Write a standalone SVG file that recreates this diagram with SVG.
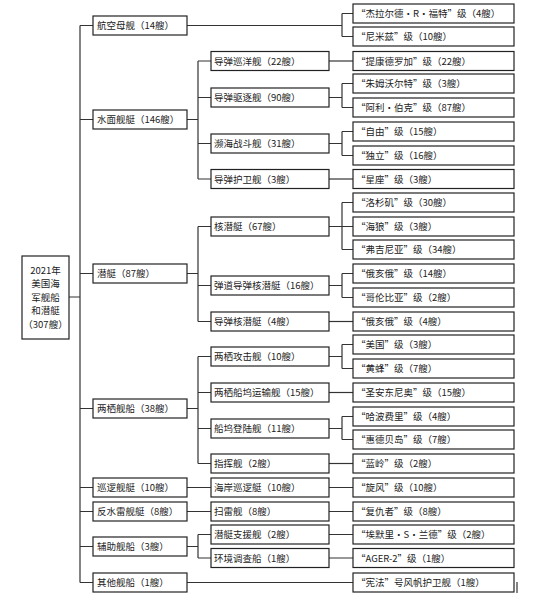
<svg xmlns="http://www.w3.org/2000/svg" width="536" height="597" viewBox="0 0 536 597">
<style>
.b{fill:#fff;stroke:#222;stroke-width:1.2}
.t{font-family:"Noto Sans CJK SC","Noto Sans",sans-serif;font-size:9.5px;fill:#222}
.c{fill:none;stroke:#333;stroke-width:1.2}
</style>
<rect width="536" height="597" fill="#fff"/>
<g id="connectors" class="c">
<path d="M69,297H80M80,25.5V582.5M80,25.5H93M80,119.5H93M80,273.5H93M80,408.5H93M80,487.5H93M80,511.5H93M80,546.5H93M80,582.5H93"/>
<path d="M187,25.5H342M342,13.5V36.5M342,13.5H353M342,36.5H353"/>
<path d="M187,119.5H198M198,61H198V179M198,61H211M198,97.5H211M198,143.5H211M198,179H211"/>
<path d="M329,61H353"/>
<path d="M329,97.5H342M342,83.5V107.5M342,83.5H353M342,107.5H353"/>
<path d="M329,143.5H342M342,131.5V155.5M342,131.5H353M342,155.5H353"/>
<path d="M329,179H353"/>
<path d="M187,273.5H198M198,226.5V321.5M198,226.5H211M198,285.5H211M198,321.5H211"/>
<path d="M329,226.5H342M342,202.5V249.5M342,202.5H353M342,226.5H353M342,249.5H353"/>
<path d="M329,285.5H342M342,273.5V297.5M342,273.5H353M342,297.5H353"/>
<path d="M329,321.5H353"/>
<path d="M187,408.5H198M198,356.5V463.5M198,356.5H211M198,392.5H211M198,428.5H211M198,463.5H211"/>
<path d="M329,356.5H342M342,344.5V368.5M342,344.5H353M342,368.5H353"/>
<path d="M329,392.5H353"/>
<path d="M329,428.5H342M342,416.5V439.5M342,416.5H353M342,439.5H353"/>
<path d="M329,463.5H353"/>
<path d="M187,487.5H211M329,487.5H353"/>
<path d="M187,511.5H211M329,511.5H353"/>
<path d="M187,546.5H198M198,534.5V558M198,534.5H211M198,558H211"/>
<path d="M329,534.5H353M329,558H353"/>
<path d="M187,582.5H353"/>
<path d="M517,582V593"/>
</g>
<g id="root"><rect class="b" x="22" y="256" width="47" height="83"/>
<text class="t" text-anchor="middle" x="45.5" y="273.5">2021年</text>
<text class="t" text-anchor="middle" x="45.5" y="287">美国海</text>
<text class="t" text-anchor="middle" x="45.5" y="300.5">军舰船</text>
<text class="t" text-anchor="middle" x="45.5" y="314">和潜艇</text>
<text class="t" text-anchor="middle" x="45.5" y="327.5">（307艘）</text></g>
<g id="l1-carrier"><rect class="b" x="93" y="16" width="94" height="19"/><text class="t" x="97" y="29.3">航空母舰（14艘）</text></g>
<g id="l1-surface"><rect class="b" x="93" y="110" width="94" height="19"/><text class="t" x="97" y="123.3">水面舰艇（146艘）</text></g>
<g id="l1-sub"><rect class="b" x="93" y="264" width="94" height="19"/><text class="t" x="97" y="277.3">潜艇（87艘）</text></g>
<g id="l1-amphib"><rect class="b" x="93" y="399" width="94" height="19"/><text class="t" x="97" y="412.3">两栖舰船（38艘）</text></g>
<g id="l1-patrol"><rect class="b" x="93" y="478" width="94" height="19"/><text class="t" x="97" y="491.3">巡逻舰艇（10艘）</text></g>
<g id="l1-mine"><rect class="b" x="93" y="502" width="94" height="19"/><text class="t" x="97" y="515.3">反水雷舰艇（8艘）</text></g>
<g id="l1-aux"><rect class="b" x="93" y="537" width="94" height="19"/><text class="t" x="97" y="550.3">辅助舰船（3艘）</text></g>
<g id="l1-other"><rect class="b" x="93" y="573" width="94" height="19"/><text class="t" x="97" y="586.3">其他舰船（1艘）</text></g>
<g id="l2-cg"><rect class="b" x="211" y="51.5" width="118" height="19"/><text class="t" x="214" y="64.8">导弹巡洋舰（22艘）</text></g>
<g id="l2-ddg"><rect class="b" x="211" y="88" width="118" height="19"/><text class="t" x="214" y="101.3">导弹驱逐舰（90艘）</text></g>
<g id="l2-lcs"><rect class="b" x="211" y="134" width="118" height="19"/><text class="t" x="214" y="147.3">濒海战斗舰（31艘）</text></g>
<g id="l2-ffg"><rect class="b" x="211" y="169.5" width="118" height="19"/><text class="t" x="214" y="182.8">导弹护卫舰（3艘）</text></g>
<g id="l2-ssn"><rect class="b" x="211" y="217" width="118" height="19"/><text class="t" x="214" y="230.3">核潜艇（67艘）</text></g>
<g id="l2-ssbn"><rect class="b" x="211" y="276" width="118" height="19"/><text class="t" x="214" y="289.3">弹道导弹核潜艇（16艘）</text></g>
<g id="l2-ssgn"><rect class="b" x="211" y="312" width="118" height="19"/><text class="t" x="214" y="325.3">导弹核潜艇（4艘）</text></g>
<g id="l2-lha"><rect class="b" x="211" y="347" width="118" height="19"/><text class="t" x="214" y="360.3">两栖攻击舰（10艘）</text></g>
<g id="l2-lpd"><rect class="b" x="211" y="383" width="118" height="19"/><text class="t" x="214" y="396.3">两栖船坞运输舰（15艘）</text></g>
<g id="l2-lsd"><rect class="b" x="211" y="419" width="118" height="19"/><text class="t" x="214" y="432.3">船坞登陆舰（11艘）</text></g>
<g id="l2-lcc"><rect class="b" x="211" y="454" width="118" height="19"/><text class="t" x="214" y="467.3">指挥舰（2艘）</text></g>
<g id="l2-pc"><rect class="b" x="211" y="478" width="118" height="19"/><text class="t" x="214" y="491.3">海岸巡逻艇（10艘）</text></g>
<g id="l2-mcm"><rect class="b" x="211" y="502" width="118" height="19"/><text class="t" x="214" y="515.3">扫雷舰（8艘）</text></g>
<g id="l2-as"><rect class="b" x="211" y="525" width="118" height="19"/><text class="t" x="214" y="538.3">潜艇支援舰（2艘）</text></g>
<g id="l2-ager"><rect class="b" x="211" y="548.5" width="118" height="19"/><text class="t" x="214" y="561.8">环境调查船（1艘）</text></g>
<g id="l3-ford"><rect class="b" x="353" y="4" width="161" height="19"/><text class="t" x="356" y="17.3">“杰拉尔德·R·福特”级（4艘）</text></g>
<g id="l3-nimitz"><rect class="b" x="353" y="27" width="161" height="19"/><text class="t" x="356" y="40.3">“尼米兹”级（10艘）</text></g>
<g id="l3-tico"><rect class="b" x="353" y="51.5" width="161" height="19"/><text class="t" x="356" y="64.8">“提康德罗加”级（22艘）</text></g>
<g id="l3-zumwalt"><rect class="b" x="353" y="74" width="161" height="19"/><text class="t" x="356" y="87.3">“朱姆沃尔特”级（3艘）</text></g>
<g id="l3-burke"><rect class="b" x="353" y="98" width="161" height="19"/><text class="t" x="356" y="111.3">“阿利·伯克”级（87艘）</text></g>
<g id="l3-freedom"><rect class="b" x="353" y="122" width="161" height="19"/><text class="t" x="356" y="135.3">“自由”级（15艘）</text></g>
<g id="l3-indep"><rect class="b" x="353" y="146" width="161" height="19"/><text class="t" x="356" y="159.3">“独立”级（16艘）</text></g>
<g id="l3-const"><rect class="b" x="353" y="169.5" width="161" height="19"/><text class="t" x="356" y="182.8">“星座”级（3艘）</text></g>
<g id="l3-la"><rect class="b" x="353" y="193" width="161" height="19"/><text class="t" x="356" y="206.3">“洛杉矶”级（30艘）</text></g>
<g id="l3-seawolf"><rect class="b" x="353" y="217" width="161" height="19"/><text class="t" x="356" y="230.3">“海狼”级（3艘）</text></g>
<g id="l3-virginia"><rect class="b" x="353" y="240" width="161" height="19"/><text class="t" x="356" y="253.3">“弗吉尼亚”级（34艘）</text></g>
<g id="l3-ohio14"><rect class="b" x="353" y="264" width="161" height="19"/><text class="t" x="356" y="277.3">“俄亥俄”级（14艘）</text></g>
<g id="l3-columbia"><rect class="b" x="353" y="288" width="161" height="19"/><text class="t" x="356" y="301.3">“哥伦比亚”级（2艘）</text></g>
<g id="l3-ohio4"><rect class="b" x="353" y="312" width="161" height="19"/><text class="t" x="356" y="325.3">“俄亥俄”级（4艘）</text></g>
<g id="l3-america"><rect class="b" x="353" y="335" width="161" height="19"/><text class="t" x="356" y="348.3">“美国”级（3艘）</text></g>
<g id="l3-wasp"><rect class="b" x="353" y="359" width="161" height="19"/><text class="t" x="356" y="372.3">“黄蜂”级（7艘）</text></g>
<g id="l3-sa"><rect class="b" x="353" y="383" width="161" height="19"/><text class="t" x="356" y="396.3">“圣安东尼奥”级（15艘）</text></g>
<g id="l3-hf"><rect class="b" x="353" y="407" width="161" height="19"/><text class="t" x="356" y="420.3">“哈波费里”级（4艘）</text></g>
<g id="l3-wi"><rect class="b" x="353" y="430" width="161" height="19"/><text class="t" x="356" y="443.3">“惠德贝岛”级（7艘）</text></g>
<g id="l3-br"><rect class="b" x="353" y="454" width="161" height="19"/><text class="t" x="356" y="467.3">“蓝岭”级（2艘）</text></g>
<g id="l3-cyclone"><rect class="b" x="353" y="478" width="161" height="19"/><text class="t" x="356" y="491.3">“旋风”级（10艘）</text></g>
<g id="l3-avenger"><rect class="b" x="353" y="502" width="161" height="19"/><text class="t" x="356" y="515.3">“复仇者”级（8艘）</text></g>
<g id="l3-land"><rect class="b" x="353" y="525" width="161" height="19"/><text class="t" x="356" y="538.3">“埃默里·S·兰德”级（2艘）</text></g>
<g id="l3-ager2"><rect class="b" x="353" y="548.5" width="161" height="19"/><text class="t" x="356" y="561.8">“AGER-2”级（1艘）</text></g>
<g id="l3-const-frigate"><rect class="b" x="353" y="573" width="161" height="19"/><text class="t" x="356" y="586.3">“宪法”号风帆护卫舰（1艘）</text></g>
</svg>
